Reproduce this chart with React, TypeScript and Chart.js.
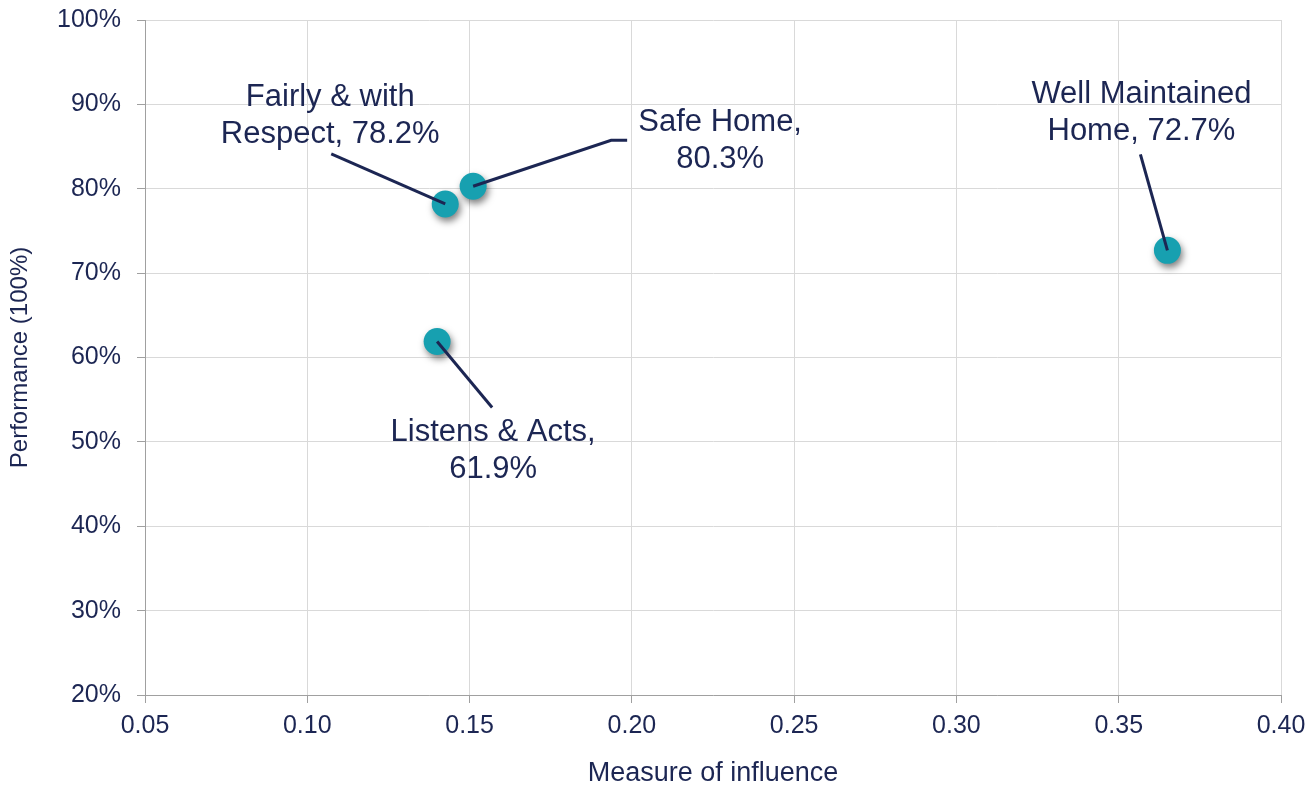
import React, { useEffect, useRef } from "react";
import { Chart, registerables } from "chart.js";

Chart.register(...registerables);

// ---- Data ----
const categoryFirstLine = ["Fairly & with", "Safe Home", "Listens & Acts", "Well Maintained"];
const categorySecondLine = ["Respect", "", "", "Home"];
const influence = [0.1425, 0.1511, 0.14, 0.365];
const performance = [78.2, 80.3, 61.9, 72.7];

const xMin = 0.05;
const xMax = 0.4;
const xStep = 0.05;
const yMin = 20;
const yMax = 100;
const yStep = 10;

const xTitle = "Measure of influence";
const yTitle = "Performance (100%)";

// ---- Styles / label layout (pixel offsets relative to each point) ----
const TEXT = "#1c2653";
const TEAL = "#17a0b0";
const FONT = "'Liberation Sans', Arial, sans-serif";
const labelLayout = [
  { dx: -115, baseline: -98, leader: [[-114, -50]] },
  { dx: 247, baseline: -55, leader: [[138, -46], [154, -46]] },
  { dx: 56, baseline: 100, leader: [[55, 66]] },
  { dx: -26, baseline: -147, leader: [[-27, -96]] },
];

function labelText(i: number): string[] {
  const v = performance[i].toFixed(1) + "%";
  if (categorySecondLine[i] === "") return [categoryFirstLine[i] + ",", v];
  return [categoryFirstLine[i], categorySecondLine[i] + ", " + v];
}

const shadowPlugin = {
  id: "pointShadow",
  beforeDatasetsDraw(chart: any) {
    const ctx = chart.ctx;
    ctx.save();
    ctx.shadowColor = "rgba(0,0,0,0.5)";
    ctx.shadowBlur = 7;
    ctx.shadowOffsetX = 2;
    ctx.shadowOffsetY = 4;
  },
  afterDatasetsDraw(chart: any) {
    chart.ctx.restore();
  },
};

const labelPlugin = {
  id: "leaderLabels",
  afterDatasetsDraw(chart: any) {
    const ctx = chart.ctx;
    const meta = chart.getDatasetMeta(0);
    meta.data.forEach((pt: any, i: number) => {
      const lay = labelLayout[i];
      const x = pt.x;
      const y = pt.y;
      ctx.save();
      ctx.strokeStyle = TEXT;
      ctx.lineWidth = 3;
      ctx.lineCap = "butt";
      ctx.beginPath();
      ctx.moveTo(x, y);
      lay.leader.forEach((p) => ctx.lineTo(x + p[0], y + p[1]));
      ctx.stroke();
      ctx.fillStyle = TEXT;
      ctx.font = `31px ${FONT}`;
      ctx.textAlign = "center";
      ctx.textBaseline = "alphabetic";
      labelText(i).forEach((line, k) => {
        ctx.fillText(line, x + lay.dx, y + lay.baseline + k * 37);
      });
      ctx.restore();
    });
  },
};

export default function App() {
  const ref = useRef<HTMLCanvasElement | null>(null);

  useEffect(() => {
    document.body.style.margin = "0";
    if (!ref.current) return;
    const chart = new Chart(ref.current, {
      type: "scatter",
      data: {
        datasets: [
          {
            data: influence.map((x, i) => ({ x, y: performance[i] })),
            backgroundColor: TEAL,
            borderColor: TEAL,
            borderWidth: 0,
            pointRadius: 13.5,
            pointHoverRadius: 13.5,
          },
        ],
      },
      options: {
        responsive: false,
        animation: false,
        devicePixelRatio: 1,
        layout: { padding: { left: 0, right: 31, top: 20, bottom: 0 } },
        plugins: {
          legend: { display: false },
          tooltip: { enabled: false },
        },
        scales: {
          x: {
            type: "linear",
            min: xMin,
            max: xMax,
            afterFit(scale: any) {
              scale.height = 92;
              scale.paddingLeft = 0;
              scale.paddingRight = 0;
            },
            ticks: {
              stepSize: xStep,
              color: TEXT,
              font: { family: FONT, size: 25 },
              padding: 8,
              callback: (v: any) => Number(v).toFixed(2),
            },
            grid: { color: "#d9d9d9", tickColor: "#a0a0a0", tickLength: 8, lineWidth: 1 },
            border: { color: "#a0a0a0", width: 1 },
            title: {
              display: true,
              text: xTitle,
              color: TEXT,
              font: { family: FONT, size: 27, lineHeight: 1 },
              padding: { top: 0, bottom: 0 },
            },
          },
          y: {
            type: "linear",
            min: yMin,
            max: yMax,
            afterFit(scale: any) {
              scale.width = 145;
              scale.paddingTop = 0;
              scale.paddingBottom = 0;
            },
            ticks: {
              stepSize: yStep,
              color: TEXT,
              font: { family: FONT, size: 25 },
              padding: 16,
              callback: (v: any) => `${v}%`,
            },
            grid: { color: "#d9d9d9", tickColor: "#a0a0a0", tickLength: 8, lineWidth: 1 },
            border: { color: "#a0a0a0", width: 1 },
            title: {
              display: true,
              text: yTitle,
              color: TEXT,
              font: { family: FONT, size: 24, lineHeight: 1 },
              padding: { top: 8, bottom: 0 },
            },
          },
        },
      },
      plugins: [shadowPlugin, labelPlugin],
    });
    return () => chart.destroy();
  }, []);

  return (
    <div style={{ width: 1312, height: 787, background: "#fff" }}>
      <canvas ref={ref} width={1312} height={787} style={{ display: "block" }} />
    </div>
  );
}
